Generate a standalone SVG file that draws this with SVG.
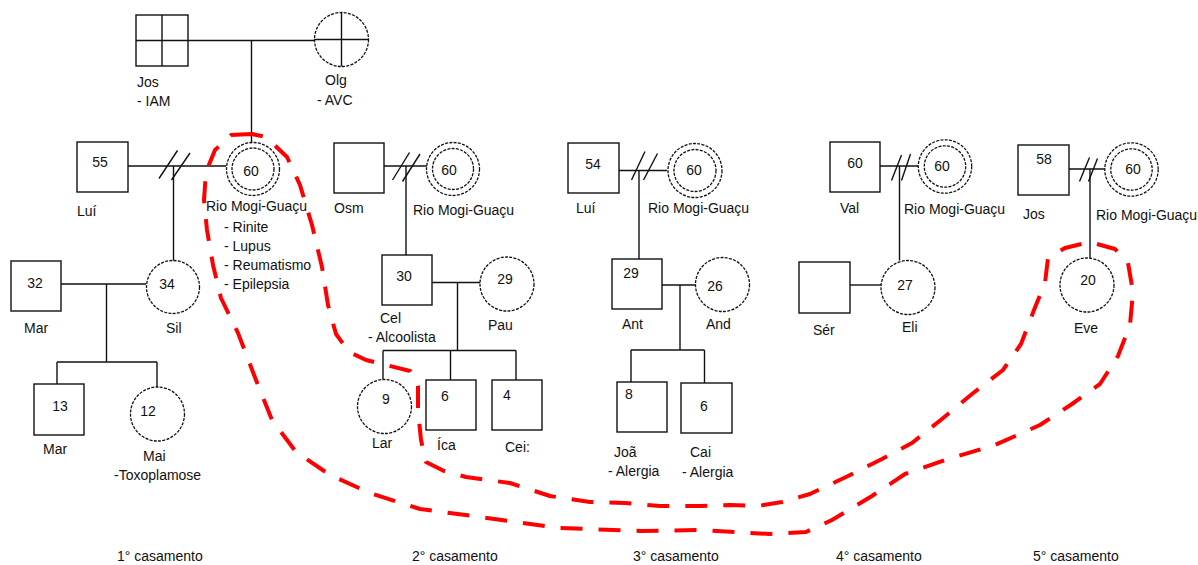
<svg xmlns="http://www.w3.org/2000/svg" width="1198" height="565" viewBox="0 0 1198 565">
<style>
  text{font-family:"Liberation Sans",Arial,sans-serif;font-size:14px;fill:#111}
  .m{text-anchor:middle}
  .sq{fill:#fff;stroke:#111;stroke-width:1.4}
  .ci{fill:#fff;stroke:#111;stroke-width:1.3;stroke-dasharray:3 1.3}
  .ln{stroke:#111;stroke-width:1.4;fill:none}
  .red{stroke:#ff0000;stroke-width:4;fill:none;stroke-dasharray:22 16;stroke-linecap:butt;stroke-linejoin:round}
</style>
<rect width="1198" height="565" fill="#fff"/>

<g id="connectors">
  <line class="ln" x1="188" y1="40.5" x2="315" y2="40.5"/>
  <line class="ln" x1="251.5" y1="40.5" x2="251.5" y2="143"/>
  <line class="ln" x1="128" y1="166" x2="226" y2="166"/>
  <line class="ln" x1="159" y1="178.5" x2="177.5" y2="150.5"/>
  <line class="ln" x1="171.5" y1="180" x2="190" y2="153"/>
  <line class="ln" x1="173.5" y1="166" x2="173.5" y2="261"/>
  <line class="ln" x1="61" y1="284" x2="146" y2="284"/>
  <line class="ln" x1="106.5" y1="284" x2="106.5" y2="362"/>
  <line class="ln" x1="57" y1="362" x2="157" y2="362"/>
  <line class="ln" x1="57" y1="362" x2="57" y2="384"/>
  <line class="ln" x1="157" y1="362" x2="157" y2="387"/>
  <line class="ln" x1="384" y1="166" x2="427" y2="166"/>
  <line class="ln" x1="392.5" y1="180" x2="409.5" y2="152.5"/>
  <line class="ln" x1="402.5" y1="181.5" x2="420" y2="154"/>
  <line class="ln" x1="406" y1="166" x2="406" y2="255"/>
  <line class="ln" x1="432" y1="282.5" x2="480" y2="282.5"/>
  <line class="ln" x1="457.5" y1="282.5" x2="457.5" y2="350.5"/>
  <line class="ln" x1="383" y1="350.5" x2="516" y2="350.5"/>
  <line class="ln" x1="383" y1="350.5" x2="383" y2="379.5"/>
  <line class="ln" x1="450.5" y1="350.5" x2="450.5" y2="380"/>
  <line class="ln" x1="516" y1="350.5" x2="516" y2="380"/>
  <line class="ln" x1="619" y1="170.5" x2="667" y2="170.5"/>
  <line class="ln" x1="631.5" y1="180" x2="645" y2="151.5"/>
  <line class="ln" x1="643.5" y1="180" x2="657.5" y2="153.5"/>
  <line class="ln" x1="639" y1="170.5" x2="639" y2="259"/>
  <line class="ln" x1="662" y1="285" x2="695" y2="285"/>
  <line class="ln" x1="680" y1="285" x2="680" y2="350"/>
  <line class="ln" x1="631" y1="350" x2="704.5" y2="350"/>
  <line class="ln" x1="631" y1="350" x2="631" y2="382"/>
  <line class="ln" x1="704.5" y1="350" x2="704.5" y2="383"/>
  <line class="ln" x1="880" y1="166" x2="918" y2="166"/>
  <line class="ln" x1="891.5" y1="180.5" x2="901.5" y2="155"/>
  <line class="ln" x1="901.5" y1="180.5" x2="910.5" y2="154"/>
  <line class="ln" x1="899.5" y1="166" x2="899.5" y2="260.5"/>
  <line class="ln" x1="850" y1="285" x2="881" y2="285"/>
  <line class="ln" x1="1069" y1="169" x2="1105" y2="169"/>
  <line class="ln" x1="1079.5" y1="181.5" x2="1089.5" y2="157.5"/>
  <line class="ln" x1="1088.5" y1="181.5" x2="1097.5" y2="158.5"/>
  <line class="ln" x1="1090" y1="169" x2="1090" y2="258"/>
</g>

<g id="n-jos-avo">
  <rect class="sq" x="136" y="15" width="52" height="51"/>
  <line class="ln" x1="162" y1="15" x2="162" y2="66"/>
  <line class="ln" x1="136" y1="40.5" x2="188" y2="40.5"/>
  <text x="137" y="87">Jos</text>
  <text x="137" y="106">- IAM</text>
</g>
<g id="n-olg">
  <circle class="ci" cx="341.5" cy="39.5" r="27"/>
  <line class="ln" x1="314" y1="39.5" x2="368" y2="39.5"/>
  <line class="ln" x1="341.5" y1="12.5" x2="341.5" y2="66.5"/>
  <text x="325" y="85">Olg</text>
  <text x="317" y="105">- AVC</text>
</g>

<g id="n-rio1">
  <circle class="ci" cx="253" cy="169" r="26.5"/>
  <circle class="ci" cx="253" cy="169" r="21"/>
  <text class="m" x="251" y="176">60</text>
  <text x="206" y="211">Rio Mogi-Guaçu</text>
  <text x="224" y="231.5">- Rinite</text>
  <text x="224" y="251">- Lupus</text>
  <text x="224" y="270">- Reumatismo</text>
  <text x="224" y="289">- Epilepsia</text>
</g>
<g id="n-lui55">
  <rect class="sq" x="77" y="142" width="51" height="50"/>
  <text class="m" x="100" y="167">55</text>
  <text x="77" y="216">Luí</text>
</g>
<g id="n-mar32">
  <rect class="sq" x="11" y="261" width="50" height="50"/>
  <text class="m" x="35" y="288">32</text>
  <text x="24" y="333">Mar</text>
</g>
<g id="n-sil">
  <circle class="ci" cx="173" cy="287" r="26.5"/>
  <text class="m" x="167" y="289">34</text>
  <text x="166" y="333">Sil</text>
</g>
<g id="n-mar13">
  <rect class="sq" x="34" y="384" width="50" height="51"/>
  <text class="m" x="60" y="411">13</text>
  <text x="43" y="454">Mar</text>
</g>
<g id="n-mai">
  <circle class="ci" cx="157.5" cy="414" r="27"/>
  <text class="m" x="148" y="416">12</text>
  <text x="143" y="461">Mai</text>
  <text x="114" y="480">-Toxoplamose</text>
</g>

<g id="n-osm">
  <rect class="sq" x="334" y="143" width="50" height="50"/>
  <text x="334" y="213">Osm</text>
</g>
<g id="n-rio2">
  <circle class="ci" cx="453" cy="169" r="26.5"/>
  <circle class="ci" cx="453" cy="169" r="20.5"/>
  <text class="m" x="449" y="174.5">60</text>
  <text x="413" y="215">Rio Mogi-Guaçu</text>
</g>
<g id="n-cel">
  <rect class="sq" x="382" y="255" width="50" height="50"/>
  <text class="m" x="404" y="281">30</text>
  <text x="380" y="323">Cel</text>
  <text x="368" y="342">- Alcoolista</text>
</g>
<g id="n-pau">
  <circle class="ci" cx="507" cy="284" r="27"/>
  <text class="m" x="505" y="284">29</text>
  <text x="488" y="330">Pau</text>
</g>
<g id="n-lar">
  <circle class="ci" cx="384.5" cy="406.5" r="27"/>
  <text class="m" x="386" y="404">9</text>
  <text x="372" y="448">Lar</text>
</g>
<g id="n-ica">
  <rect class="sq" x="426" y="380" width="50" height="50"/>
  <text class="m" x="445" y="401">6</text>
  <text x="437" y="450">Íca</text>
</g>
<g id="n-cei">
  <rect class="sq" x="492" y="380" width="50" height="50"/>
  <text class="m" x="507" y="400">4</text>
  <text x="505" y="451.5">Cei:</text>
</g>

<g id="n-lui54">
  <rect class="sq" x="568" y="143" width="51" height="50"/>
  <text class="m" x="593" y="169">54</text>
  <text x="576" y="213">Luí</text>
</g>
<g id="n-rio3">
  <circle class="ci" cx="695" cy="170.5" r="27"/>
  <circle class="ci" cx="695" cy="170.5" r="21"/>
  <text class="m" x="694" y="175">60</text>
  <text x="648" y="213">Rio Mogi-Guaçu</text>
</g>
<g id="n-ant">
  <rect class="sq" x="612" y="259" width="50" height="50"/>
  <text class="m" x="631" y="277.5">29</text>
  <text x="622" y="329">Ant</text>
</g>
<g id="n-and">
  <circle class="ci" cx="722.5" cy="284.5" r="27"/>
  <text class="m" x="715" y="290.5">26</text>
  <text x="706" y="329">And</text>
</g>
<g id="n-joa">
  <rect class="sq" x="617" y="382" width="50" height="50"/>
  <text class="m" x="629" y="399">8</text>
  <text x="614" y="457">Joã</text>
  <text x="608" y="476">- Alergia</text>
</g>
<g id="n-cai">
  <rect class="sq" x="681" y="383" width="51" height="50"/>
  <text class="m" x="704" y="411">6</text>
  <text x="690" y="457">Cai</text>
  <text x="682" y="477">- Alergia</text>
</g>

<g id="n-val">
  <rect class="sq" x="830" y="142" width="50" height="50"/>
  <text class="m" x="855" y="168">60</text>
  <text x="840" y="213">Val</text>
</g>
<g id="n-rio4">
  <circle class="ci" cx="945" cy="166.5" r="26.7"/>
  <circle class="ci" cx="945" cy="166.5" r="20.7"/>
  <text class="m" x="942" y="171">60</text>
  <text x="904" y="214">Rio Mogi-Guaçu</text>
</g>
<g id="n-ser">
  <rect class="sq" x="799" y="262" width="51" height="51"/>
  <text x="813" y="335">Sér</text>
</g>
<g id="n-eli">
  <circle class="ci" cx="908" cy="287.5" r="27"/>
  <text class="m" x="905" y="290">27</text>
  <text x="902" y="332">Eli</text>
</g>

<g id="n-jos58">
  <rect class="sq" x="1018" y="145" width="51" height="50"/>
  <text class="m" x="1044" y="163.5">58</text>
  <text x="1023" y="219">Jos</text>
</g>
<g id="n-rio5">
  <circle class="ci" cx="1131.5" cy="169.5" r="26.7"/>
  <circle class="ci" cx="1131.5" cy="169.5" r="20.7"/>
  <text class="m" x="1133" y="174">60</text>
  <text x="1096" y="220">Rio Mogi-Guaçu</text>
</g>
<g id="n-eve">
  <circle class="ci" cx="1087" cy="285" r="27"/>
  <text class="m" x="1088" y="285">20</text>
  <text x="1074" y="333">Eve</text>
</g>

<g id="highlight">
  <path class="red" d="M252,134 L231,135 L215,150 L206,172 L204,200 L207,230 L213,265 L221,298 L238,333 L256,380 L272,420 L296,452 L330,475 L370,493 L420,509 L480,517 L560,528 L640,531 L700,530 L770,534 L806,532 L832,520 L872,496 L905,474 L945,460 L995,445 L1040,425 L1072,404 L1100,384 L1118,356 L1130,325 L1133,292 L1128,263 L1115,249 L1090,242 L1065,248 L1048,258 L1045,283 L1034,310 L1021,344 L1003,370 L972,394 L942,419 L912,443 L882,459 L846,477 L810,494 L782,502 L758,506 L730,505 L700,506 L660,506 L625,503 L590,502 L550,496 L510,483 L466,477 L444,471 L426,462 L421,440 L418,410 L418,386 L410,371 L386,365 L366,360 L349,352 L336,334 L328,305 L322,267 L312,225 L300,185 L287,157 L266,137 Z"/>
</g>

<g id="labels">
  <text x="117" y="561">1° casamento</text>
  <text x="412" y="561">2° casamento</text>
  <text x="633" y="561">3° casamento</text>
  <text x="836" y="561">4° casamento</text>
  <text x="1033" y="561">5° casamento</text>
</g>
</svg>
